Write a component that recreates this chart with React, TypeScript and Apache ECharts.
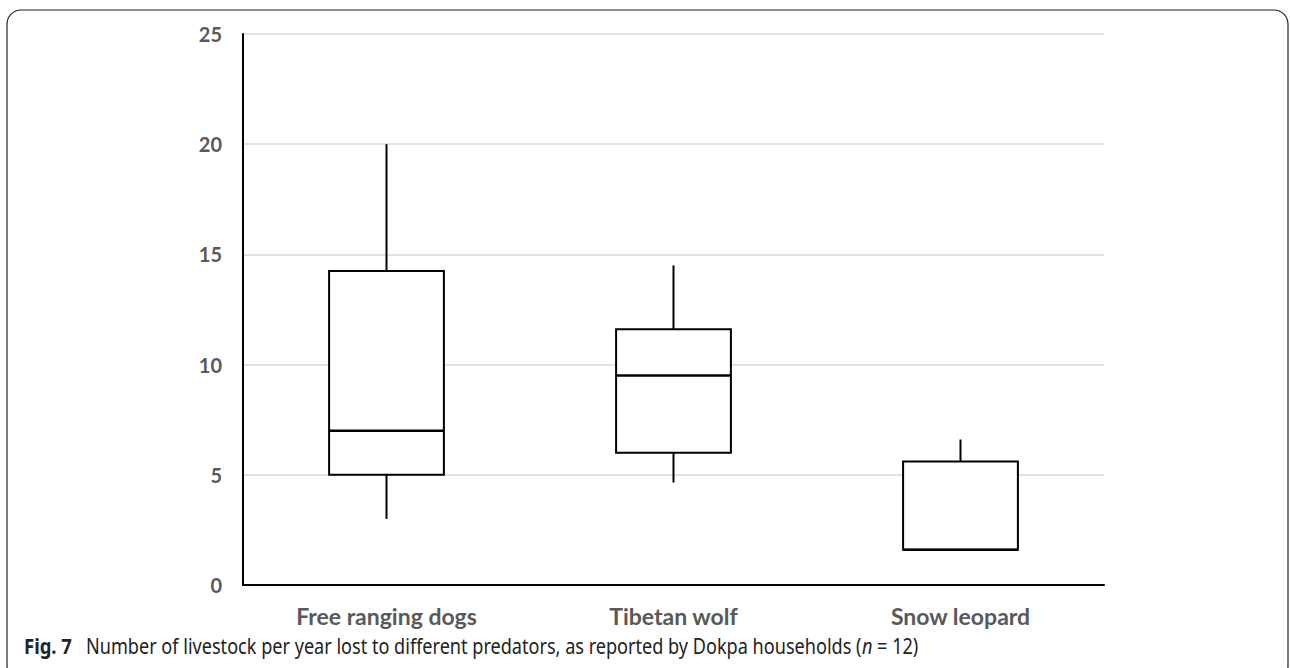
import React, { useEffect, useRef } from "react";
import * as echarts from "echarts";

const categories = ["Free ranging dogs", "Tibetan wolf", "Snow leopard"];
const minValues = [3, 4.65, 1.6];
const q1Values = [5, 6, 1.6];
const medianValues = [7, 9.5, 1.6];
const q3Values = [14.25, 11.6, 5.6];
const maxValues = [20, 14.5, 6.6];
const yTicks = [0, 5, 10, 15, 20, 25];
const caption = "Number of livestock per year lost to different predators, as reported by Dokpa households (";

export default function App() {
  const ref = useRef<HTMLDivElement>(null);
  useEffect(() => {
    const chart = echarts.init(ref.current!, null, { renderer: "svg" });
    const data = categories.map((_, i) => [i, minValues[i], q1Values[i], medianValues[i], q3Values[i], maxValues[i]]);
    chart.setOption({
      animation: false,
      backgroundColor: "#ffffff",
      grid: { left: 243, right: 186, top: 34, bottom: 83 },
      xAxis: {
        type: "category",
        data: categories,
        axisLine: { show: true, lineStyle: { color: "#000", width: 2 } },
        axisTick: { show: false },
        axisLabel: { color: "#595959", fontFamily: "Lato", fontWeight: "bold", fontSize: 23, margin: 19 },
        splitLine: { show: false },
      },
      yAxis: {
        type: "value",
        min: yTicks[0],
        max: yTicks[yTicks.length - 1],
        interval: 5,
        axisLine: { show: true, lineStyle: { color: "#000", width: 2 } },
        axisTick: { show: false },
        axisLabel: { color: "#595959", fontFamily: "Lato", fontWeight: "bold", fontSize: 20, margin: 21 },
        splitLine: { show: true, lineStyle: { color: "#d9d9d9", width: 1.5 } },
      },
      series: [
        {
          type: "custom",
          data,
          encode: { x: 0, y: [1, 2, 3, 4, 5] },
          renderItem: (params: any, api: any) => {
            const idx = api.value(0);
            const pMin = api.coord([idx, api.value(1)]);
            const pQ1 = api.coord([idx, api.value(2)]);
            const pMed = api.coord([idx, api.value(3)]);
            const pQ3 = api.coord([idx, api.value(4)]);
            const pMax = api.coord([idx, api.value(5)]);
            const bw = api.size([1, 0])[0] * 0.4;
            const x = pQ1[0];
            const st = { stroke: "#000", lineWidth: 2, fill: "none" };
            return {
              type: "group",
              children: [
                { type: "line", shape: { x1: x, y1: pQ3[1], x2: x, y2: pMax[1] }, style: st },
                { type: "line", shape: { x1: x, y1: pQ1[1], x2: x, y2: pMin[1] }, style: st },
                { type: "rect", shape: { x: x - bw / 2, y: pQ3[1], width: bw, height: pQ1[1] - pQ3[1] }, style: { stroke: "#000", lineWidth: 2, fill: "#fff" } },
                { type: "line", shape: { x1: x - bw / 2, y1: pMed[1], x2: x + bw / 2, y2: pMed[1] }, style: { stroke: "#000", lineWidth: 2.5 } },
              ],
            };
          },
        },
      ],
      graphic: [
        {
          type: "rect",
          shape: { x: 7, y: 10, width: 1281, height: 670, r: 14 },
          style: { fill: "none", stroke: "#222", lineWidth: 1.2 },
          silent: true,
        },
        {
          type: "text",
          x: 24,
          y: 646,
          scaleX: 0.88,
          style: { text: "Fig. 7", fontFamily: "Noto Sans", fontWeight: "bold", fontSize: 21, fill: "#1e2330", verticalAlign: "middle" },
        },
        {
          type: "text",
          x: 86,
          y: 646,
          scaleX: 0.862,
          style: {
            rich: { n: { fontStyle: "italic", fontFamily: "Noto Sans", fontSize: 21, fill: "#222" } },
            text: caption + "{n|n} = 12)",
            fontFamily: "Noto Sans",
            fontSize: 21,
            fill: "#222",
            verticalAlign: "middle",
          },
        },
      ],
    });
    return () => chart.dispose();
  }, []);
  return <div ref={ref} style={{ position: "fixed", left: 0, top: 0, width: 1290, height: 668 }} />;
}
